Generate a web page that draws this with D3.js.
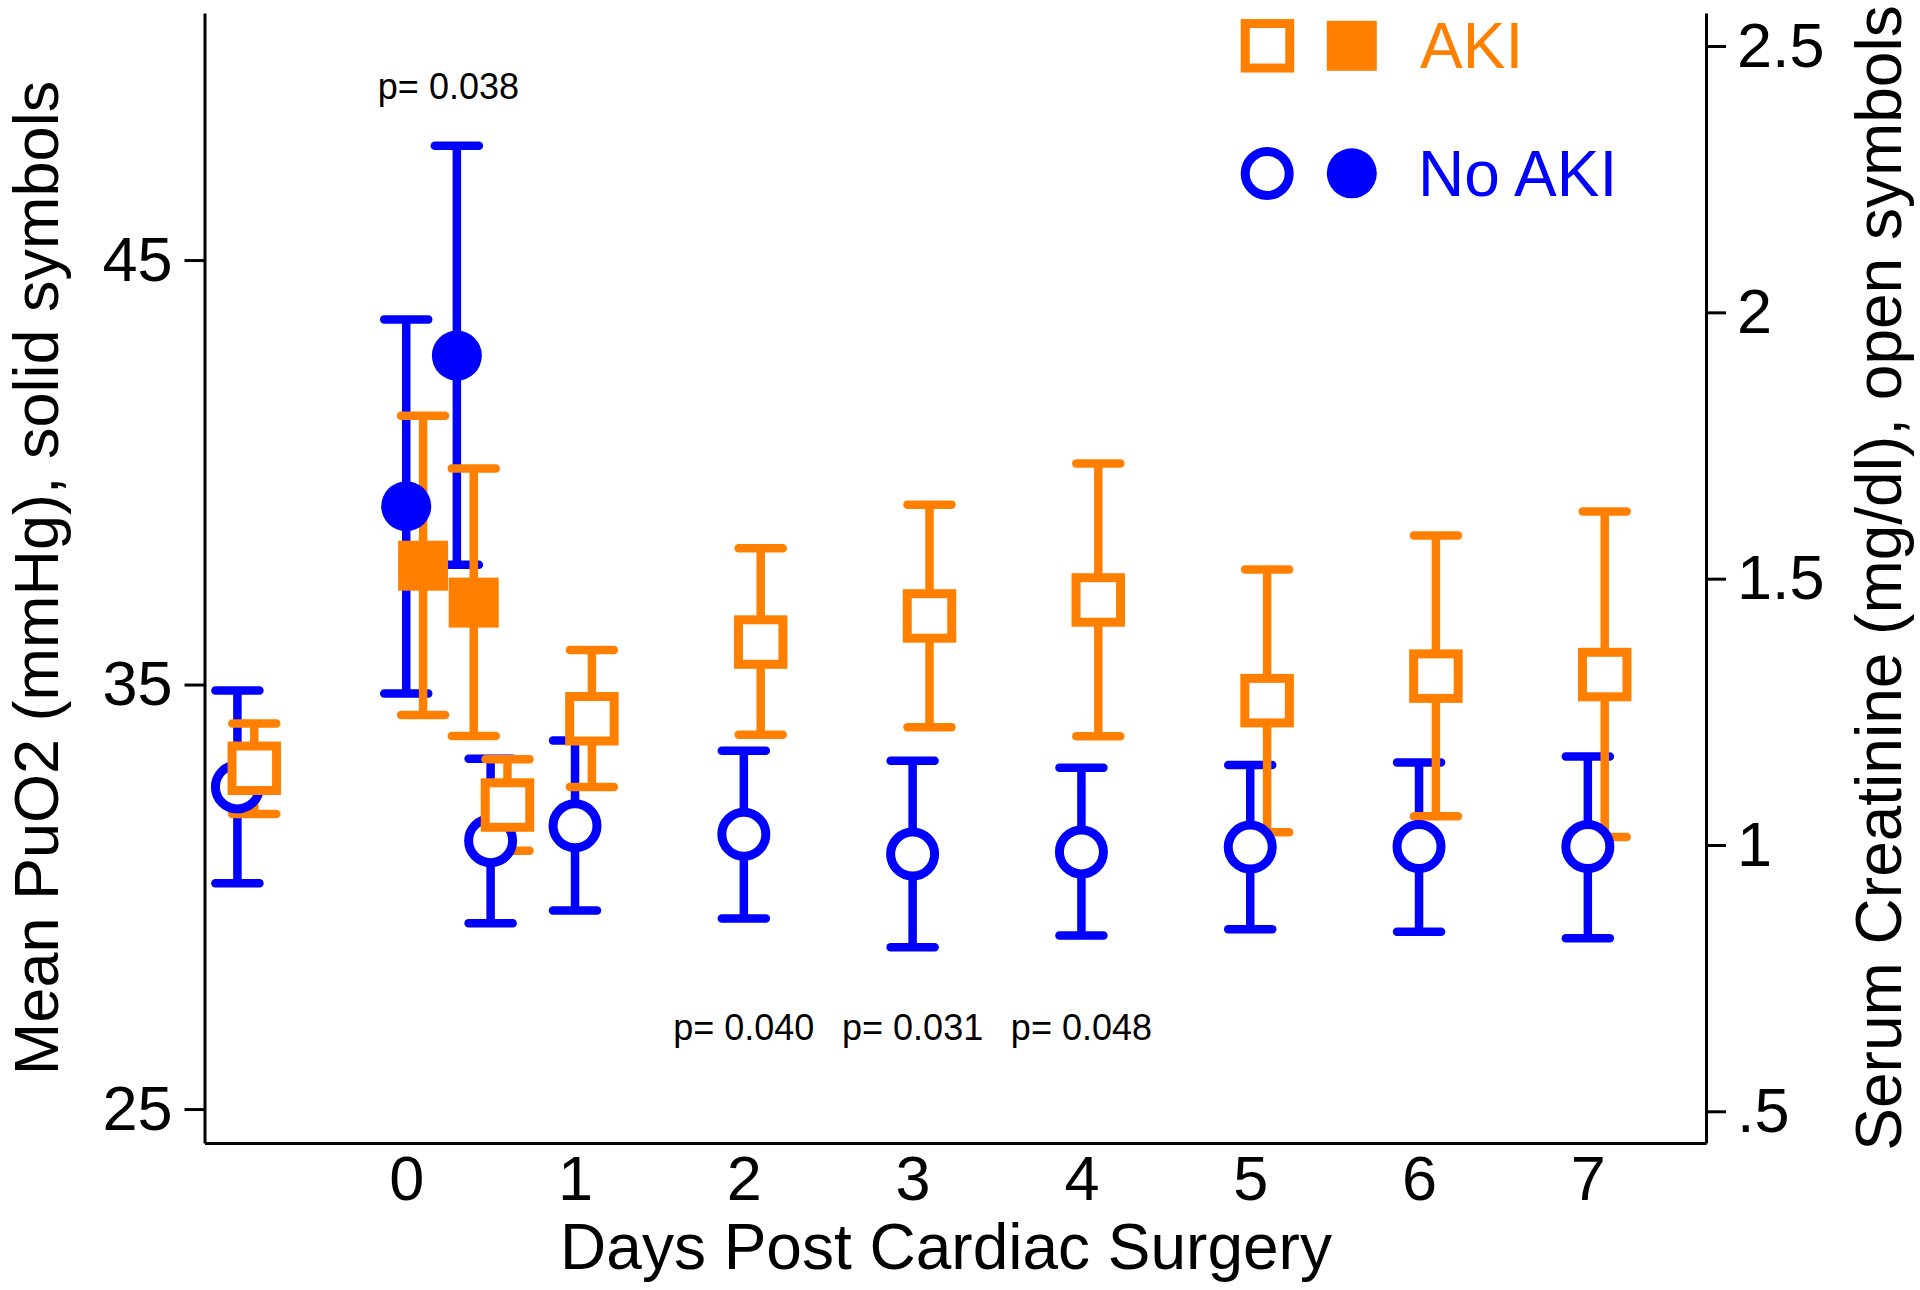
<!DOCTYPE html>
<html>
<head>
<meta charset="utf-8">
<script src="https://cdn.jsdelivr.net/npm/d3@7"></script>
<style>
  html, body { margin: 0; padding: 0; background: #fff; }
  svg { display: block; }
  text { font-family: "Liberation Sans", Arial, Helvetica, sans-serif; }
</style>
</head>
<body>
<svg id="chart" width="1920" height="1290"></svg>
<script>
// ---------------- data ----------------
const dayTicks = [0, 1, 2, 3, 4, 5, 6, 7];
const leftTicks = [25, 35, 45];
const rightTicks = [0.5, 1, 1.5, 2, 2.5];

// Serum creatinine (open symbols, right axis)
const noAkiCreatX  = [-1, 0.5, 1, 2, 3, 4, 5, 6, 7];
const noAkiCreat   = [1.109, 1.008, 1.036, 1.020, 0.983, 0.987, 0.996, 0.997, 0.997];
const noAkiCreatLo = [0.928, 0.853, 0.877, 0.862, 0.808, 0.830, 0.842, 0.837, 0.825];
const noAkiCreatHi = [1.290, 1.162, 1.196, 1.177, 1.158, 1.145, 1.150, 1.155, 1.166];

const akiCreatX  = [-0.9, 0.6, 1.1, 2.1, 3.1, 4.1, 5.1, 6.1, 7.1];
const akiCreat   = [1.144, 1.075, 1.237, 1.381, 1.430, 1.460, 1.271, 1.317, 1.320];
const akiCreatLo = [1.058, 0.989, 1.109, 1.207, 1.221, 1.204, 1.024, 1.054, 1.015];
const akiCreatHi = [1.228, 1.161, 1.366, 1.557, 1.639, 1.716, 1.517, 1.581, 1.626];

// Mean PuO2 (solid symbols, left axis)
const noAkiPuX  = [0, 0.3];
const noAkiPu   = [39.2, 42.75];
const noAkiPuLo = [34.79, 37.82];
const noAkiPuHi = [43.6, 47.69];

const akiPuX  = [0.1, 0.4];
const akiPu   = [37.8, 36.93];
const akiPuLo = [34.28, 33.79];
const akiPuHi = [41.33, 40.09];

// p-value annotations (x in days, y in mmHg)
const pLabels = ["p= 0.038", "p= 0.040", "p= 0.031", "p= 0.048"];
const pX = [0.25, 2, 3, 4];
const pY = [48.8, 26.63, 26.63, 26.63];

const legendLabels = ["AKI", "No AKI"];

// ---------------- styles ----------------
const ORANGE = "#ff8000";
const BLUE = "#0000ff";
const BAR_W = 8.5;
const CAP_HALF = 22;

// ---------------- scales ----------------
const L = 204.5, R = 1706, T = 13, B = 1143;
const x  = d3.scaleLinear().domain([-1.195, 7.70]).range([L, R]);
const yL = d3.scaleLinear().domain([24.2, 50.82]).range([B, T]);
const yR = d3.scaleLinear().domain([0.4405, 2.562]).range([B, T]);

const svg = d3.select("#chart");

// ---------------- axes ----------------
const fs = 63;
const gL = svg.append("g").attr("transform", `translate(${L},0)`)
  .call(d3.axisLeft(yL).tickValues(leftTicks).tickSize(20).tickSizeOuter(0).tickPadding(12));
const gR = svg.append("g").attr("transform", `translate(${R},0)`)
  .call(d3.axisRight(yR).tickValues(rightTicks).tickSize(20).tickSizeOuter(0).tickPadding(11)
    .tickFormat(d => d === 0.5 ? ".5" : String(d)));
const gB = svg.append("g").attr("transform", `translate(0,${B})`)
  .call(d3.axisBottom(x).tickValues(dayTicks).tickSize(0).tickSizeOuter(0).tickPadding(12));

[gL, gR, gB].forEach(g => {
  g.select(".domain").attr("stroke", "#000").attr("stroke-width", 3);
  g.selectAll(".tick line").attr("stroke", "#000").attr("stroke-width", 3);
  g.selectAll(".tick text").attr("fill", "#000").style("font-size", fs + "px")
    .style("font-family", '"Liberation Sans", Arial, Helvetica, sans-serif');
});
gB.selectAll(".tick line").remove();

// axis titles
svg.append("text")
  .attr("transform", `translate(58,578) rotate(-90)`)
  .attr("text-anchor", "middle").style("font-size", "63px")
  .text("Mean PuO2 (mmHg), solid symbols");
svg.append("text")
  .attr("transform", `translate(1901,578) rotate(-90)`)
  .attr("text-anchor", "middle").style("font-size", "64px")
  .text("Serum Creatinine (mg/dl), open symbols");
svg.append("text")
  .attr("x", 946).attr("y", 1269)
  .attr("text-anchor", "middle").style("font-size", "64px")
  .text("Days Post Cardiac Surgery");

// ---------------- helpers ----------------
function zip(xs, ms, los, his) {
  return xs.map((v, i) => ({ x: v, m: ms[i], lo: los[i], hi: his[i] }));
}
const noAkiCreatData = zip(noAkiCreatX, noAkiCreat, noAkiCreatLo, noAkiCreatHi);
const akiCreatData   = zip(akiCreatX, akiCreat, akiCreatLo, akiCreatHi);
const noAkiPuData    = zip(noAkiPuX, noAkiPu, noAkiPuLo, noAkiPuHi);
const akiPuData      = zip(akiPuX, akiPu, akiPuLo, akiPuHi);

function drawBars(data, yScale, color) {
  const g = svg.append("g");
  const sel = g.selectAll("g").data(data).enter().append("g");
  sel.append("line")
    .attr("x1", d => x(d.x)).attr("x2", d => x(d.x))
    .attr("y1", d => yScale(d.lo)).attr("y2", d => yScale(d.hi))
    .attr("stroke", color).attr("stroke-width", BAR_W);
  ["lo", "hi"].forEach(k => {
    sel.append("line")
      .attr("x1", d => x(d.x) - CAP_HALF).attr("x2", d => x(d.x) + CAP_HALF)
      .attr("y1", d => yScale(d[k])).attr("y2", d => yScale(d[k]))
      .attr("stroke", color).attr("stroke-width", BAR_W).attr("stroke-linecap", "round");
  });
}

function openCircle(g, cx, cy) {
  g.append("circle").attr("cx", cx).attr("cy", cy).attr("r", 22)
    .attr("fill", "#fff").attr("stroke", BLUE).attr("stroke-width", 9);
}
function filledCircle(g, cx, cy) {
  g.append("circle").attr("cx", cx).attr("cy", cy).attr("r", 25).attr("fill", BLUE);
}
function openSquare(g, cx, cy) {
  const s = 44.5;
  g.append("rect").attr("x", cx - s / 2).attr("y", cy - s / 2).attr("width", s).attr("height", s)
    .attr("fill", "#fff").attr("stroke", ORANGE).attr("stroke-width", 9);
}
function filledSquare(g, cx, cy) {
  const s = 50;
  g.append("rect").attr("x", cx - s / 2).attr("y", cy - s / 2).attr("width", s).attr("height", s)
    .attr("fill", ORANGE);
}

// ---------------- error bars ----------------
drawBars(noAkiCreatData, yR, BLUE);
drawBars(noAkiPuData, yL, BLUE);
drawBars(akiCreatData, yR, ORANGE);
drawBars(akiPuData, yL, ORANGE);

// ---------------- markers ----------------
const gm = svg.append("g");
noAkiCreatData.forEach(d => openCircle(gm, x(d.x), yR(d.m)));
noAkiPuData.forEach(d => filledCircle(gm, x(d.x), yL(d.m)));
akiCreatData.forEach(d => openSquare(gm, x(d.x), yR(d.m)));
akiPuData.forEach(d => filledSquare(gm, x(d.x), yL(d.m)));

// ---------------- p-values ----------------
svg.append("g").selectAll("text").data(pLabels).enter().append("text")
  .attr("x", (d, i) => x(pX[i])).attr("y", (d, i) => yL(pY[i]))
  .attr("text-anchor", "middle").style("font-size", "36px").attr("fill", "#000")
  .text(d => d);

// ---------------- legend ----------------
const lg = svg.append("g");
openSquare(lg, 1267.5, 45.8);
filledSquare(lg, 1351.8, 45.8);
openCircle(lg, 1267.2, 173.5);
filledCircle(lg, 1351.8, 173.3);
lg.append("text").attr("x", 1420).attr("y", 68.3).style("font-size", "64px")
  .attr("fill", ORANGE).text(legendLabels[0]);
lg.append("text").attr("x", 1418).attr("y", 196).style("font-size", "64px")
  .attr("fill", BLUE).text(legendLabels[1]);
</script>
</body>
</html>
